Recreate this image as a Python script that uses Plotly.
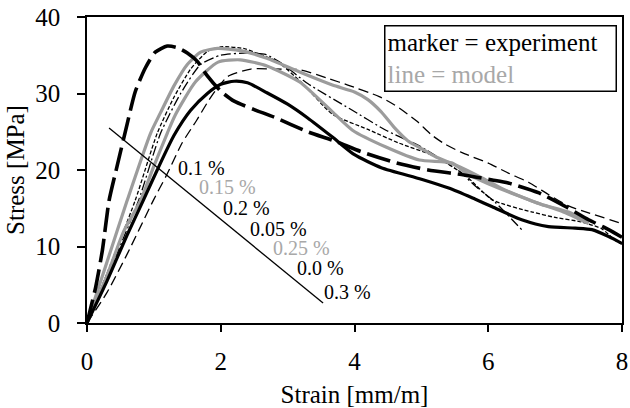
import plotly.graph_objects as go

# ---- data (strain mm/m, stress MPa) ----
b1_x = [0, 0.13, 0.23, 0.33, 0.45, 0.6, 0.72, 0.87, 1.02, 1.2, 1.35, 1.5, 1.65, 1.8, 2.0, 2.2, 2.5, 2.8, 3.3, 3.7, 4.1, 4.6, 5.1, 5.6, 6.06, 6.3, 6.76, 7.16, 7.5, 7.8, 8.0]
b1_y = [0, 4.7, 9.5, 16, 20.5, 26, 30.2, 33.3, 35.4, 36.2, 36.0, 35.3, 34.2, 32.3, 30.3, 29.0, 27.9, 26.9, 25.0, 23.8, 22.4, 21.0, 20.0, 19.4, 18.7, 18.3, 17.0, 15.2, 13.5, 12.2, 11.2]

b2_x = [0, 0.3, 0.6, 0.84, 1.05, 1.3, 1.55, 1.8, 2.0, 2.2, 2.4, 2.69, 3.0, 3.3, 3.67, 4.0, 4.4, 5.0, 5.42, 5.8, 6.06, 6.5, 6.9, 7.3, 7.55, 7.8, 8.0]
b2_y = [0, 5.5, 11.5, 16, 20, 24.5, 27.8, 30, 31.2, 31.6, 31.4, 30.1, 28.6, 26.8, 24.3, 22.0, 20.3, 18.8, 17.6, 16.2, 15.2, 13.5, 12.6, 12.4, 12.2, 11.3, 10.4]

b3_x = [0, 0.3, 0.6, 0.99, 1.2, 1.42, 1.64, 1.85, 2.1, 2.45, 2.8, 3.18, 3.63, 3.9, 4.37, 4.6, 4.93, 5.15, 5.35, 5.6, 6.0, 6.3, 6.6, 6.9, 7.2, 7.5, 8.0]
b3_y = [0, 4, 9, 16, 19.5, 23.5, 26.5, 29.5, 32.2, 33.2, 33.2, 33.1, 31.9, 31.1, 29.6, 28.5, 26.4, 24.6, 23.4, 22.3, 20.9, 19.6, 18.4, 16.8, 15.3, 14.4, 13.0]

b4_x = [0, 0.3, 0.72, 1.05, 1.3, 1.55, 1.8, 2.0, 2.34, 2.5, 2.84, 3.2, 3.67, 4.2, 4.67, 5.2, 5.67, 6.06, 6.66, 7.0, 7.4, 7.7, 7.9, 8.0]
b4_y = [0, 6.5, 16, 24.8, 29.5, 33.2, 35.5, 36.1, 35.9, 35.4, 34.2, 31.5, 27.3, 25.3, 23.5, 21.8, 19.2, 16.1, 14.5, 13.8, 13.2, 12.3, 10.8, 10.3]

b5_x = [0, 0.3, 0.77, 1.1, 1.4, 1.7, 2.0, 2.4, 2.67, 2.9, 3.3, 3.93, 4.47, 5.0, 5.57, 5.82, 6.1, 6.5]
b5_y = [0, 6, 16, 24.8, 30, 33.8, 35.0, 35.3, 35.1, 34.0, 31.3, 28.0, 25.2, 23.0, 19.8, 17.8, 15.8, 12.2]

g1_x = [0, 0.3, 0.6, 0.95, 1.1, 1.3, 1.5, 1.7, 1.95, 2.3, 2.69, 3.18, 3.67, 4.0, 4.2, 4.4, 4.6, 4.8, 5.0, 5.22, 5.6, 5.9, 6.2, 6.7, 7.1, 7.5]
g1_y = [0, 8, 16, 24.8, 27.5, 31, 33.8, 35.4, 35.9, 35.6, 34.6, 32.8, 31.1, 30.2, 29.2, 27.6, 25.5, 23.8, 22.8, 21.7, 20.3, 19.0, 17.6, 15.8, 14.6, 13.0]

g2_x = [0, 0.3, 0.55, 0.8, 1.0, 1.2, 1.32, 1.62, 1.96, 2.29, 2.69, 3.18, 3.67, 3.97, 4.47, 4.97, 5.46, 5.67, 6.0, 6.4, 6.8, 7.2, 7.5]
g2_y = [0, 6.2, 12, 16, 20.5, 24.8, 27.2, 31.5, 34.1, 34.4, 33.6, 31.5, 27.6, 25.2, 23.0, 21.3, 20.9, 19.6, 18.2, 16.8, 15.5, 14.5, 13.1]

diag_x = [0.33, 3.53]
diag_y = [25.5, 2.6]

label_text = ["0.1 %", "0.15 %", "0.2 %", "0.05 %", "0.25 %", "0.0 %", "0.3 %"]
label_x = [1.71, 2.10, 2.39, 2.87, 3.20, 3.49, 3.89]
label_y = [20.3, 17.8, 15.0, 12.3, 9.8, 7.2, 4.05]
label_gray = [False, True, False, False, True, False, False]

GRAY = "#9c9c9c"
GRAY_TXT = "#a8a8a8"
FONT = "Liberation Serif, Times New Roman, Times, serif"

fig = go.Figure()

def add(x, y, color, width, dash):
    fig.add_trace(go.Scatter(x=x, y=y, mode="lines", line=dict(color=color, width=width, dash=dash, shape="spline", smoothing=0.6), showlegend=False, hoverinfo="skip"))

add(b3_x, b3_y, "black", 1.3, "10px,5px")
add(b4_x, b4_y, "black", 1.3, "4px,2px")
add(b5_x, b5_y, "black", 1.3, "10px,3px,2px,3px")
add(g1_x, g1_y, GRAY, 3.2, "solid")
add(g2_x, g2_y, GRAY, 3.2, "solid")
add(b2_x, b2_y, "black", 3.2, "solid")
add(b1_x, b1_y, "black", 3.6, "24px,7px")

fig.add_trace(go.Scatter(x=diag_x, y=diag_y, mode="lines", line=dict(color="black", width=1.3), showlegend=False, hoverinfo="skip"))

for t, x, y, g in zip(label_text, label_x, label_y, label_gray):
    fig.add_annotation(x=x, y=y, text=t, showarrow=False, xanchor="center", yanchor="middle",
                       font=dict(family=FONT, size=20, color=GRAY_TXT if g else "black"))

fig.add_annotation(xref="paper", yref="paper", x=0.99, y=0.974, xanchor="right", yanchor="top",
                   text="marker = experiment<br><span style='color:%s'>line = model</span>" % GRAY_TXT,
                   showarrow=False, align="left", bordercolor="black", borderwidth=1.5, bgcolor="white",
                   borderpad=2, width=226, font=dict(family=FONT, size=25, color="black"))

fig.update_layout(
    width=630, height=408,
    margin=dict(l=87, r=8, t=17, b=85, autoexpand=False),
    paper_bgcolor="white", plot_bgcolor="white",
    font=dict(family=FONT, size=25, color="black"),
    xaxis=dict(range=[0, 8], dtick=2, tick0=0, showgrid=False, zeroline=False, automargin=False,
               showline=True, linecolor="black", linewidth=1.5, mirror=True,
               ticks="outside", ticklen=7, tickwidth=1.5, tickcolor="black",
               ticklabelstandoff=8,
               title=dict(text="Strain [mm/m]", standoff=12, font=dict(size=25))),
    yaxis=dict(range=[0, 40], dtick=10, tick0=0, showgrid=False, automargin=False,
               zeroline=True, zerolinecolor="black", zerolinewidth=3,
               showline=True, linecolor="black", linewidth=1.5, mirror=True,
               ticks="outside", ticklen=8, tickwidth=1.5, tickcolor="black",
               ticklabelstandoff=12,
               title=dict(text="Stress [MPa]", standoff=4, font=dict(size=25))),
)

fig.write_html("out.html")
